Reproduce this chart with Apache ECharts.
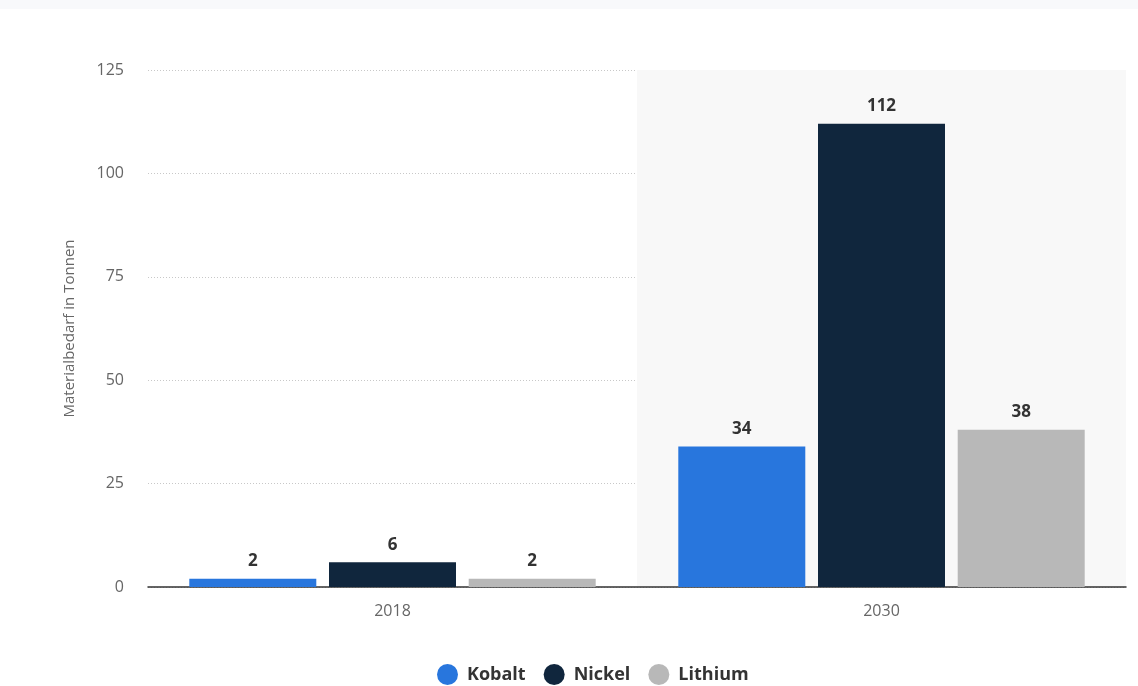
<!DOCTYPE html>
<html>
<head>
<meta charset="utf-8">
<script src="https://cdn.jsdelivr.net/npm/echarts@6/dist/echarts.min.js"></script>
<style>
  html, body { margin: 0; padding: 0; background: #ffffff; }
  #chart { width: 1138px; height: 686px; }
</style>
</head>
<body>
<div id="chart"></div>
<script>
// Materialbedarf nach Rohstoff und Jahr
const years = ['2018', '2030'];
const kobalt = [2, 34];
const nickel = [6, 112];
const lithium = [2, 38];
const yTicks = { min: 0, max: 125, interval: 25 };

const FONT = '"Open Sans", "Noto Sans", sans-serif';

const labelStyle = {
  show: true,
  position: 'top',
  distance: 9,
  color: '#333333',
  fontFamily: FONT,
  fontWeight: 'bold',
  fontSize: 17
};

function barSeries(name, data, color) {
  return {
    name: name,
    type: 'bar',
    data: data,
    barWidth: 127,
    barGap: '10%',
    itemStyle: { color: color },
    label: labelStyle
  };
}

const chart = echarts.init(document.getElementById('chart'), null, { renderer: 'canvas' });
chart.setOption({
  animation: false,
  textStyle: { fontFamily: FONT },
  graphic: [{
    type: 'rect',
    shape: { x: 0, y: 0, width: 1138, height: 9 },
    style: { fill: '#f8f9fb' },
    silent: true
  }],
  grid: { left: 148, right: 12, top: 70, bottom: 99 },
  legend: {
    left: 432,
    top: 659,
    padding: 5,
    icon: 'circle',
    itemWidth: 21,
    itemHeight: 21,
    itemGap: 18,
    textStyle: { color: '#333333', fontFamily: FONT, fontWeight: 'bold', fontSize: 18, padding: [0, 0, 0, 4] },
    data: ['Kobalt', 'Nickel', 'Lithium']
  },
  xAxis: {
    type: 'category',
    data: years,
    axisLine: { show: true, lineStyle: { color: '#333333', width: 1.5 } },
    axisTick: { show: false },
    axisLabel: { color: '#666666', fontSize: 16, margin: 16, fontFamily: FONT },
    splitArea: { show: true, areaStyle: { color: ['rgba(0,0,0,0)', '#f8f8f8'] } }
  },
  yAxis: {
    type: 'value',
    min: yTicks.min,
    max: yTicks.max,
    interval: yTicks.interval,
    name: 'Materialbedarf in Tonnen',
    nameLocation: 'middle',
    nameGap: 71,
    nameTextStyle: { color: '#666666', fontSize: 15, fontFamily: FONT },
    axisLine: { show: false },
    axisTick: { show: false },
    axisLabel: { color: '#666666', fontSize: 16, margin: 24, fontFamily: FONT },
    splitLine: { lineStyle: { color: '#c8c8c8', type: [1, 2], width: 1 } }
  },
  series: [
    barSeries('Kobalt', kobalt, '#2876dd'),
    barSeries('Nickel', nickel, '#10263d'),
    barSeries('Lithium', lithium, '#b8b8b8')
  ]
});
</script>
</body>
</html>
